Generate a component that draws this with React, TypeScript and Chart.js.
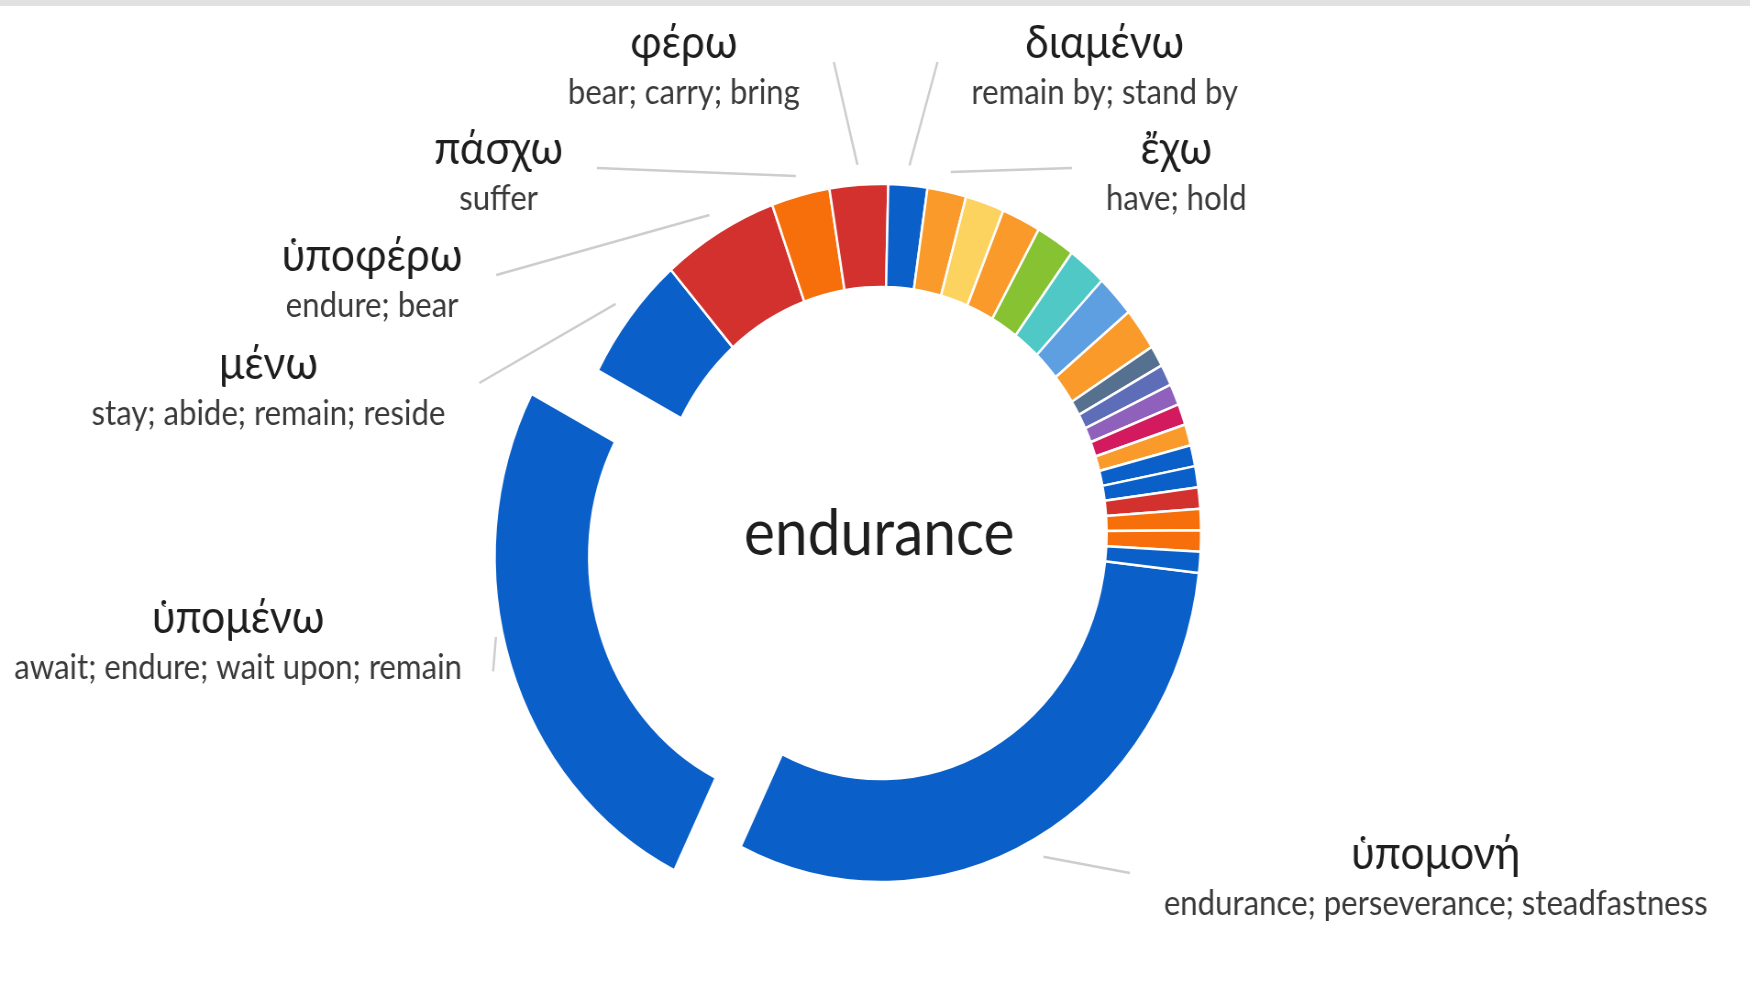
import React, { useEffect, useRef } from 'react';
import { Chart, registerables } from 'chart.js';

Chart.register(...registerables);

// ---------- data ----------
const senses = [
  'ὑπομονή', 'ὑπομένω', 'μένω', 'ὑποφέρω', 'πάσχω', 'φέρω', 'διαμένω', 'ἔχω',
  '', '', '', '', '', '', '', '', '', '', '', '', '', '', '', '', '',
];
const glosses = [
  'endurance; perseverance; steadfastness',
  'await; endure; wait upon; remain',
  'stay; abide; remain; reside',
  'endure; bear',
  'suffer',
  'bear; carry; bring',
  'remain by; stand by',
  'have; hold',
];
const counts = [31, 26, 6, 6, 3, 3, 2, 2, 2, 2, 2, 2, 2, 2, 1, 1, 1, 1, 1, 1, 1, 1, 1, 1, 1];
const sliceColors = [
  '#0a5fc9', '#0a5fc9', '#0a5fc9', '#d3312e', '#f76f0a', '#d3312e', '#0a5fc9', '#f99a2b',
  '#fcd35f', '#f99a2b', '#86c232', '#50c9c6', '#5e9fe2', '#f99a2b',
  '#56708f', '#5d6db7', '#8f61bd', '#d41a5e', '#f99a2b', '#0a5fc9', '#0a5fc9', '#d3312e',
  '#f76f0a', '#f76f0a', '#0a5fc9',
];
const centerLabel = 'endurance';

// ---------- layout / style ----------
const SQUEEZE = 0.917;
const PAGE_W = 1750;
const PAGE_H = 991;
const CANVAS_W = Math.round(PAGE_W / SQUEEZE);
const CENTER_X = 960.7;
const CENTER_Y = 533;
const OUTER_R = 349;
const CUTOUT = '70.5%';
const START_ANGLE = 96.6;
const EXPLODE_INDEX = 1;
const EXPLODE_SHIFT = 76; // pixels the exploded slice is moved
const LEADER_GAP = 20;
const LABEL_GAP = 37;
const GLOSS_DY = 46;
const TITLE_FONT = '46.5px Lato, "Open Sans", sans-serif';
const GLOSS_FONT = '34px Lato, "Open Sans", sans-serif';
const CENTER_FONT = '64px Lato, "Open Sans", sans-serif';

// label block positions relative to the doughnut centre (title baseline)
const labelLayout = [
  { dx: 605, dy: 336, side: 'right' },
  { dx: -701, dy: 100, side: 'left' },
  { dx: -668, dy: -154, side: 'left' },
  { dx: -555, dy: -262, side: 'left' },
  { dx: -417, dy: -369, side: 'left' },
  { dx: -215, dy: -475, side: 'left' },
  { dx: 244, dy: -475, side: 'right' },
  { dx: 322, dy: -369, side: 'right' },
];

const calloutPlugin = {
  id: 'callouts',
  afterDatasetsDraw(chart: any) {
    const ctx = chart.ctx as CanvasRenderingContext2D;
    const meta = chart.getDatasetMeta(0);
    const first = meta.data[0];
    const cx = first.x;
    const cy = first.y;
    ctx.save();
    ctx.textAlign = 'center';
    ctx.textBaseline = 'alphabetic';

    labelLayout.forEach((L, i) => {
      const arc = meta.data[i];
      const p = arc.getProps(['x', 'y', 'startAngle', 'endAngle', 'outerRadius'], true);
      const shift = (arc.options.offset || 0) / 4;
      const mid = (p.startAngle + p.endAngle) / 2;
      const r = p.outerRadius + LEADER_GAP + shift;
      const x1 = p.x + Math.cos(mid) * r;
      const y1 = p.y + Math.sin(mid) * r;

      const ax = cx + L.dx;
      const ay = cy + L.dy;
      ctx.font = TITLE_FONT;
      const tw = ctx.measureText(senses[i]).width;
      ctx.font = GLOSS_FONT;
      const gw = ctx.measureText(glosses[i]).width;
      const half = Math.max(tw, gw) / 2;
      const x2 = L.side === 'left' ? ax + half + LABEL_GAP : ax - half - LABEL_GAP;
      const y2 = ay + 4;

      ctx.strokeStyle = '#cdcdcd';
      ctx.lineWidth = 2.5;
      ctx.beginPath();
      ctx.moveTo(x1, y1);
      ctx.lineTo(x2, y2);
      ctx.stroke();

      ctx.fillStyle = '#1e1e1e';
      ctx.font = TITLE_FONT;
      ctx.fillText(senses[i], ax, ay);
      ctx.fillStyle = '#3a3a3a';
      ctx.font = GLOSS_FONT;
      ctx.fillText(glosses[i], ax, ay + GLOSS_DY);
    });

    ctx.fillStyle = '#1e1e1e';
    ctx.font = CENTER_FONT;
    ctx.fillText(centerLabel, cx - 2, cy + 22);
    ctx.restore();
  },
};

export default function App() {
  const canvasRef = useRef<HTMLCanvasElement | null>(null);

  useEffect(() => {
    document.body.style.margin = '0';
    const canvas = canvasRef.current;
    if (!canvas) return;
    const chart = new Chart(canvas, {
      type: 'doughnut',
      data: {
        labels: senses,
        datasets: [
          {
            data: counts,
            backgroundColor: sliceColors,
            borderColor: '#ffffff',
            borderWidth: 2.5,
            offset: counts.map((_, i) => (i === EXPLODE_INDEX ? EXPLODE_SHIFT * 4 : 0)),
          },
        ],
      },
      options: {
        responsive: false,
        animation: false,
        events: [],
        rotation: START_ANGLE,
        radius: OUTER_R,
        cutout: CUTOUT,
        layout: {
          padding: {
            left: Math.max(2 * CENTER_X - CANVAS_W, 0),
            right: Math.max(CANVAS_W - 2 * CENTER_X, 0),
            top: Math.max(2 * CENTER_Y - PAGE_H, 0),
            bottom: Math.max(PAGE_H - 2 * CENTER_Y, 0),
          },
        },
        plugins: {
          legend: { display: false },
          tooltip: { enabled: false },
        },
      } as any,
      plugins: [calloutPlugin],
    });
    return () => chart.destroy();
  }, []);

  return (
    <div
      style={{
        position: 'fixed',
        left: 0,
        top: 0,
        width: PAGE_W,
        height: PAGE_H,
        overflow: 'hidden',
        background: '#ffffff',
      }}
    >
      <div
        style={{
          position: 'absolute',
          left: 0,
          top: 0,
          width: CANVAS_W,
          height: PAGE_H,
          transform: `scaleX(${SQUEEZE})`,
          transformOrigin: '0 0',
        }}
      >
        <canvas ref={canvasRef} width={CANVAS_W} height={PAGE_H} style={{ display: 'block' }} />
      </div>
      <div
        style={{
          position: 'absolute',
          left: 0,
          top: 0,
          width: PAGE_W,
          height: 6,
          background: '#e1e1e1',
        }}
      />
    </div>
  );
}
